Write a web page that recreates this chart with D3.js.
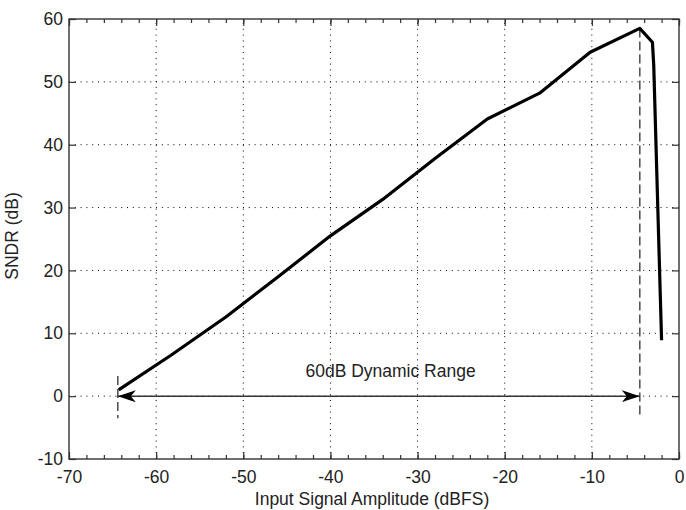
<!DOCTYPE html>
<html>
<head>
<meta charset="utf-8">
<title>SNDR vs input amplitude</title>
<script src="https://cdn.jsdelivr.net/npm/d3@7/dist/d3.min.js"></script>
<style>
  body { margin: 0; background: #fff; }
  text { font-family: "Liberation Sans", Arial, sans-serif; fill: #222; }
</style>
</head>
<body>
<div id="chart"></div>
<script>
// measured SNDR curve
var inputDbfs = [-64.3, -58.3, -52, -46, -40, -34, -28, -22, -16, -10.2, -4.5, -3.05, -2.9, -2.0];
var sndrDb    = [1.0, 6.5, 12.6, 19.0, 25.5, 31.3, 37.8, 44.1, 48.2, 54.7, 58.5, 56.3, 52.7, 8.9];

var xTicks = [-70, -60, -50, -40, -30, -20, -10, 0];
var yTicks = [-10, 0, 10, 20, 30, 40, 50, 60];
var xMinorTicks = d3.range(-70, 0.1, 2);

// dynamic range annotation
var rangeLow = -64.4, rangeHigh = -4.5;
var lowMarker = [3.2, -3.5], highMarker = [58.5, -3.4];
var rangeLabel = "60dB Dynamic Range";
var rangeLabelAt = [-33.1, 3.0];

function doD3() {
    var svg = d3.select("#chart").append("svg")
        .attr("width", 686).attr("height", 510);

    var x = d3.scaleLinear().domain([-70, 0]).range([69, 679]);
    var y = d3.scaleLinear().domain([-10, 60]).range([459, 19]);

    // grid
    svg.append("g").selectAll("line").data(xTicks.slice(1, -1)).enter().append("line")
        .attr("x1", d => x(d)).attr("x2", d => x(d))
        .attr("y1", y(-10)).attr("y2", y(60))
        .attr("stroke", "#000").attr("stroke-width", 1)
        .attr("stroke-dasharray", "1,4.8");
    svg.append("g").selectAll("line").data(yTicks.slice(1, -1)).enter().append("line")
        .attr("y1", d => y(d)).attr("y2", d => y(d))
        .attr("x1", x(-70)).attr("x2", x(0))
        .attr("stroke", "#000").attr("stroke-width", 1)
        .attr("stroke-dasharray", "1,4.8");

    // axes with inward ticks
    var fmt = d => String(d);
    var axB = d3.axisBottom(x).tickValues(xTicks).tickSize(-7).tickPadding(12).tickFormat(fmt);
    var axT = d3.axisTop(x).tickValues(xTicks).tickSize(-7).tickFormat("");
    var axL = d3.axisLeft(y).tickValues(yTicks).tickSize(-7).tickPadding(6).tickFormat(fmt);
    var axR = d3.axisRight(y).tickValues(yTicks).tickSize(-7).tickFormat("");
    var mB = d3.axisBottom(x).tickValues(xMinorTicks).tickSize(-4).tickFormat("");
    var mT = d3.axisTop(x).tickValues(xMinorTicks).tickSize(-4).tickFormat("");

    function style(g) {
        g.select("path.domain").remove();
        g.selectAll(".tick line").attr("stroke", "#333").attr("stroke-width", 1.2);
        g.selectAll("text").style("font-size", "17.5px").attr("fill", "#222");
    }
    svg.append("g").attr("transform", "translate(0," + y(-10) + ")").call(mB).call(style);
    svg.append("g").attr("transform", "translate(0," + y(60) + ")").call(mT).call(style);
    svg.append("g").attr("transform", "translate(0," + y(-10) + ")").call(axB).call(style);
    svg.append("g").attr("transform", "translate(0," + y(60) + ")").call(axT).call(style);
    svg.append("g").attr("transform", "translate(" + x(-70) + ",0)").call(axL).call(style);
    svg.append("g").attr("transform", "translate(" + x(0) + ",0)").call(axR).call(style);

    svg.append("rect")
        .attr("x", x(-70)).attr("y", y(60))
        .attr("width", x(0) - x(-70)).attr("height", y(-10) - y(60))
        .attr("fill", "none").attr("stroke", "#333").attr("stroke-width", 1.4);

    // markers for the range
    [[rangeLow, lowMarker], [rangeHigh, highMarker]].forEach(function(m) {
        svg.append("line")
            .attr("x1", x(m[0])).attr("x2", x(m[0]))
            .attr("y1", y(m[1][0])).attr("y2", y(m[1][1]))
            .attr("stroke", "#555").attr("stroke-width", 1.6)
            .attr("stroke-dasharray", "9,4");
    });

    var defs = svg.append("defs");
    defs.append("marker").attr("id", "head")
        .attr("markerUnits", "userSpaceOnUse")
        .attr("viewBox", "-18 -8 20 16")
        .attr("markerWidth", 20).attr("markerHeight", 16)
        .attr("refX", 0).attr("refY", 0)
        .attr("orient", "auto-start-reverse")
        .append("path").attr("d", "M0,0L-18,-6L-13,0L-18,6Z").attr("fill", "#000");

    svg.append("line")
        .attr("x1", x(rangeLow)).attr("x2", x(rangeHigh))
        .attr("y1", y(0)).attr("y2", y(0))
        .attr("stroke", "#333").attr("stroke-width", 1.5)
        .attr("marker-start", "url(#head)").attr("marker-end", "url(#head)");

    svg.append("text")
        .attr("x", x(rangeLabelAt[0])).attr("y", y(rangeLabelAt[1]))
        .attr("text-anchor", "middle").style("font-size", "17.5px")
        .text(rangeLabel);

    // the curve
    var pts = inputDbfs.map((v, i) => [v, sndrDb[i]]);
    svg.append("path").datum(pts)
        .attr("fill", "none").attr("stroke", "#000").attr("stroke-width", 3.2)
        .attr("stroke-linejoin", "round")
        .attr("d", d3.line().x(d => x(d[0])).y(d => y(d[1])));

    // labels
    svg.append("text").attr("x", 372).attr("y", 505)
        .attr("text-anchor", "middle").style("font-size", "17.5px")
        .text("Input Signal Amplitude (dBFS)");
    svg.append("text").attr("transform", "translate(18,236) rotate(-90)")
        .attr("text-anchor", "middle").style("font-size", "17.5px")
        .text("SNDR (dB)");
}

doD3();
</script>
</body>
</html>
